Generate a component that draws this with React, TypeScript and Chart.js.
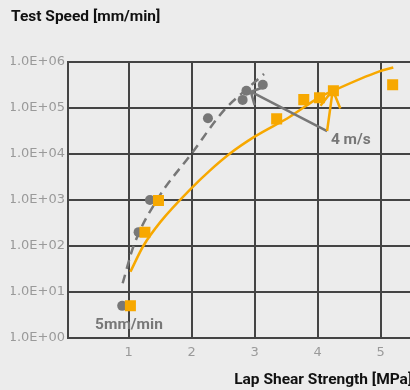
import React, { useEffect, useRef } from 'react';
import { Chart, registerables } from 'chart.js';

Chart.register(...registerables);

// ---- data ----
const circleX = [0.9, 1.16, 1.34, 2.26, 2.81, 2.87, 3.13];
const circleY = [5, 200, 1000, 60000, 150000, 238000, 320000];

const squareX = [1.03, 1.26, 1.475, 3.35, 3.78, 4.03, 4.25, 5.19];
const squareY = [5, 200, 970, 58000, 152000, 167000, 238000, 320000];

const dashFitX = [0.907, 1.08, 1.45, 2.0, 2.52, 2.9, 3.15];
const dashFitY = [15.5, 100, 1000, 10200, 91000, 275000, 550000];

const solidFitX = [1.03, 1.234, 1.51, 2.0, 2.29, 2.6, 3.0, 3.56, 4.0, 4.24, 4.97, 5.2];
const solidFitY = [27.5, 100, 339, 1820, 4365, 10000, 23800, 64600, 162000, 234000, 617000, 759000];

const yTicks = [1, 10, 100, 1000, 10000, 100000, 1000000];
const xTicks = [1, 2, 3, 4, 5];

// annotations (data coordinates)
const arrowFromX = [4.15, 4.15];
const arrowFromY = [31600, 31600];
const arrowToX = [2.94, 4.24];
const arrowToY = [226000, 246000];
const labelTexts = ['4 m/s', '5mm/min'];
const labelX = [4.21, 0.47];
const labelY = [20000, 1.9];

const ORANGE = '#f7a800';
const GREY = '#777777';
const FONT = 'Roboto, "DejaVu Sans", sans-serif';
const TICK_FONT = '"DejaVu Sans", sans-serif';

const pts = (xs: number[], ys: number[]) => xs.map((x, i) => ({ x, y: ys[i] }));

const annotPlugin = {
  id: 'annot',
  afterDatasetsDraw(chart: any) {
    const { ctx } = chart;
    const xs = chart.scales.x;
    const ys = chart.scales.y;
    ctx.save();
    const arrowColors = [GREY, ORANGE];
    const headAng = [47, 30];
    const headLen = [14, 20];
    for (let i = 0; i < arrowToX.length; i++) {
      const fx = xs.getPixelForValue(arrowFromX[i]);
      const fy = ys.getPixelForValue(arrowFromY[i]);
      const tx = xs.getPixelForValue(arrowToX[i]);
      const ty = ys.getPixelForValue(arrowToY[i]);
      ctx.strokeStyle = arrowColors[i];
      ctx.lineWidth = 2.5;
      ctx.setLineDash([]);
      ctx.beginPath();
      ctx.moveTo(fx, fy);
      ctx.lineTo(tx, ty);
      const back = Math.atan2(fy - ty, fx - tx);
      const a = (headAng[i] * Math.PI) / 180;
      ctx.moveTo(tx + headLen[i] * Math.cos(back + a), ty + headLen[i] * Math.sin(back + a));
      ctx.lineTo(tx, ty);
      ctx.lineTo(tx + headLen[i] * Math.cos(back - a), ty + headLen[i] * Math.sin(back - a));
      ctx.stroke();
    }
    ctx.fillStyle = GREY;
    ctx.font = `bold 15.5px ${FONT}`;
    ctx.textAlign = 'left';
    ctx.textBaseline = 'middle';
    for (let i = 0; i < labelTexts.length; i++) {
      ctx.fillText(labelTexts[i], xs.getPixelForValue(labelX[i]), ys.getPixelForValue(labelY[i]));
    }
    ctx.restore();
  },
};

export default function App() {
  const ref = useRef<HTMLCanvasElement | null>(null);
  useEffect(() => {
    if (!ref.current) return;
    const chart = new Chart(ref.current, {
      type: 'scatter',
      data: {
        datasets: [
          {
            data: pts(squareX, squareY),
            pointStyle: 'rect',
            pointRadius: 7.8,
            backgroundColor: ORANGE,
            borderWidth: 0,
            showLine: false,
          },
          {
            data: pts(circleX, circleY),
            pointStyle: 'circle',
            pointRadius: 5,
            backgroundColor: GREY,
            borderWidth: 0,
            showLine: false,
          },
          {
            type: 'line',
            data: pts(dashFitX, dashFitY),
            borderColor: GREY,
            borderWidth: 2.5,
            borderDash: [9, 6],
            pointRadius: 0,
            cubicInterpolationMode: 'monotone',
            fill: false,
          },
          {
            type: 'line',
            data: pts(solidFitX, solidFitY),
            borderColor: ORANGE,
            borderWidth: 2.5,
            pointRadius: 0,
            cubicInterpolationMode: 'monotone',
            fill: false,
          },
        ] as any,
      },
      options: {
        animation: false,
        responsive: false,
        layout: { padding: { left: 11, right: 6, top: 0, bottom: 0 } },
        plugins: {
          legend: { display: false },
          tooltip: { enabled: false },
          title: {
            display: true,
            text: 'Test Speed [mm/min]',
            align: 'start',
            color: '#111',
            font: { family: FONT, size: 15.5, weight: 'bold' },
            padding: { top: 8, bottom: 35.4 },
          },
        },
        scales: {
          x: {
            type: 'linear',
            min: 0.04,
            max: 5.5,
            afterBuildTicks: (s: any) => {
              s.ticks = xTicks.map((v) => ({ value: v }));
            },
            afterFit: (s: any) => {
              s.height = 52;
            },
            ticks: {
              color: '#9a9a9a',
              font: { family: TICK_FONT, size: 13 },
              padding: 7,
              callback: (v: any) => String(v),
            },
            grid: { color: '#444', lineWidth: 2, drawTicks: false },
            border: { color: '#444', width: 2 },
            title: {
              display: true,
              text: 'Lap Shear Strength [MPa]',
              align: 'end',
              color: '#111',
              font: { family: FONT, size: 15.5, weight: 'bold' },
              padding: { top: 0, bottom: 1 },
            },
          },
          y: {
            type: 'logarithmic',
            min: 1,
            max: 1000000,
            afterBuildTicks: (s: any) => {
              s.ticks = yTicks.map((v) => ({ value: v }));
            },
            afterFit: (s: any) => {
              s.width = 57;
            },
            ticks: {
              color: '#9a9a9a',
              font: { family: TICK_FONT, size: 13 },
              padding: 3,
              callback: (v: any) => {
                const e = Math.round(Math.log10(Number(v)));
                return `1.0E+${String(e).padStart(2, '0')}`;
              },
            },
            grid: { color: '#444', lineWidth: 2, drawTicks: false },
            border: { color: '#444', width: 2 },
          },
        },
      } as any,
      plugins: [annotPlugin],
    });
    return () => chart.destroy();
  }, []);

  return (
    <div
      style={{
        position: 'fixed',
        left: 0,
        top: 0,
        width: 410,
        height: 390,
        overflow: 'hidden',
        background: '#ececec',
      }}
    >
      <canvas ref={ref} width={420} height={390} style={{ display: 'block' }} />
    </div>
  );
}
